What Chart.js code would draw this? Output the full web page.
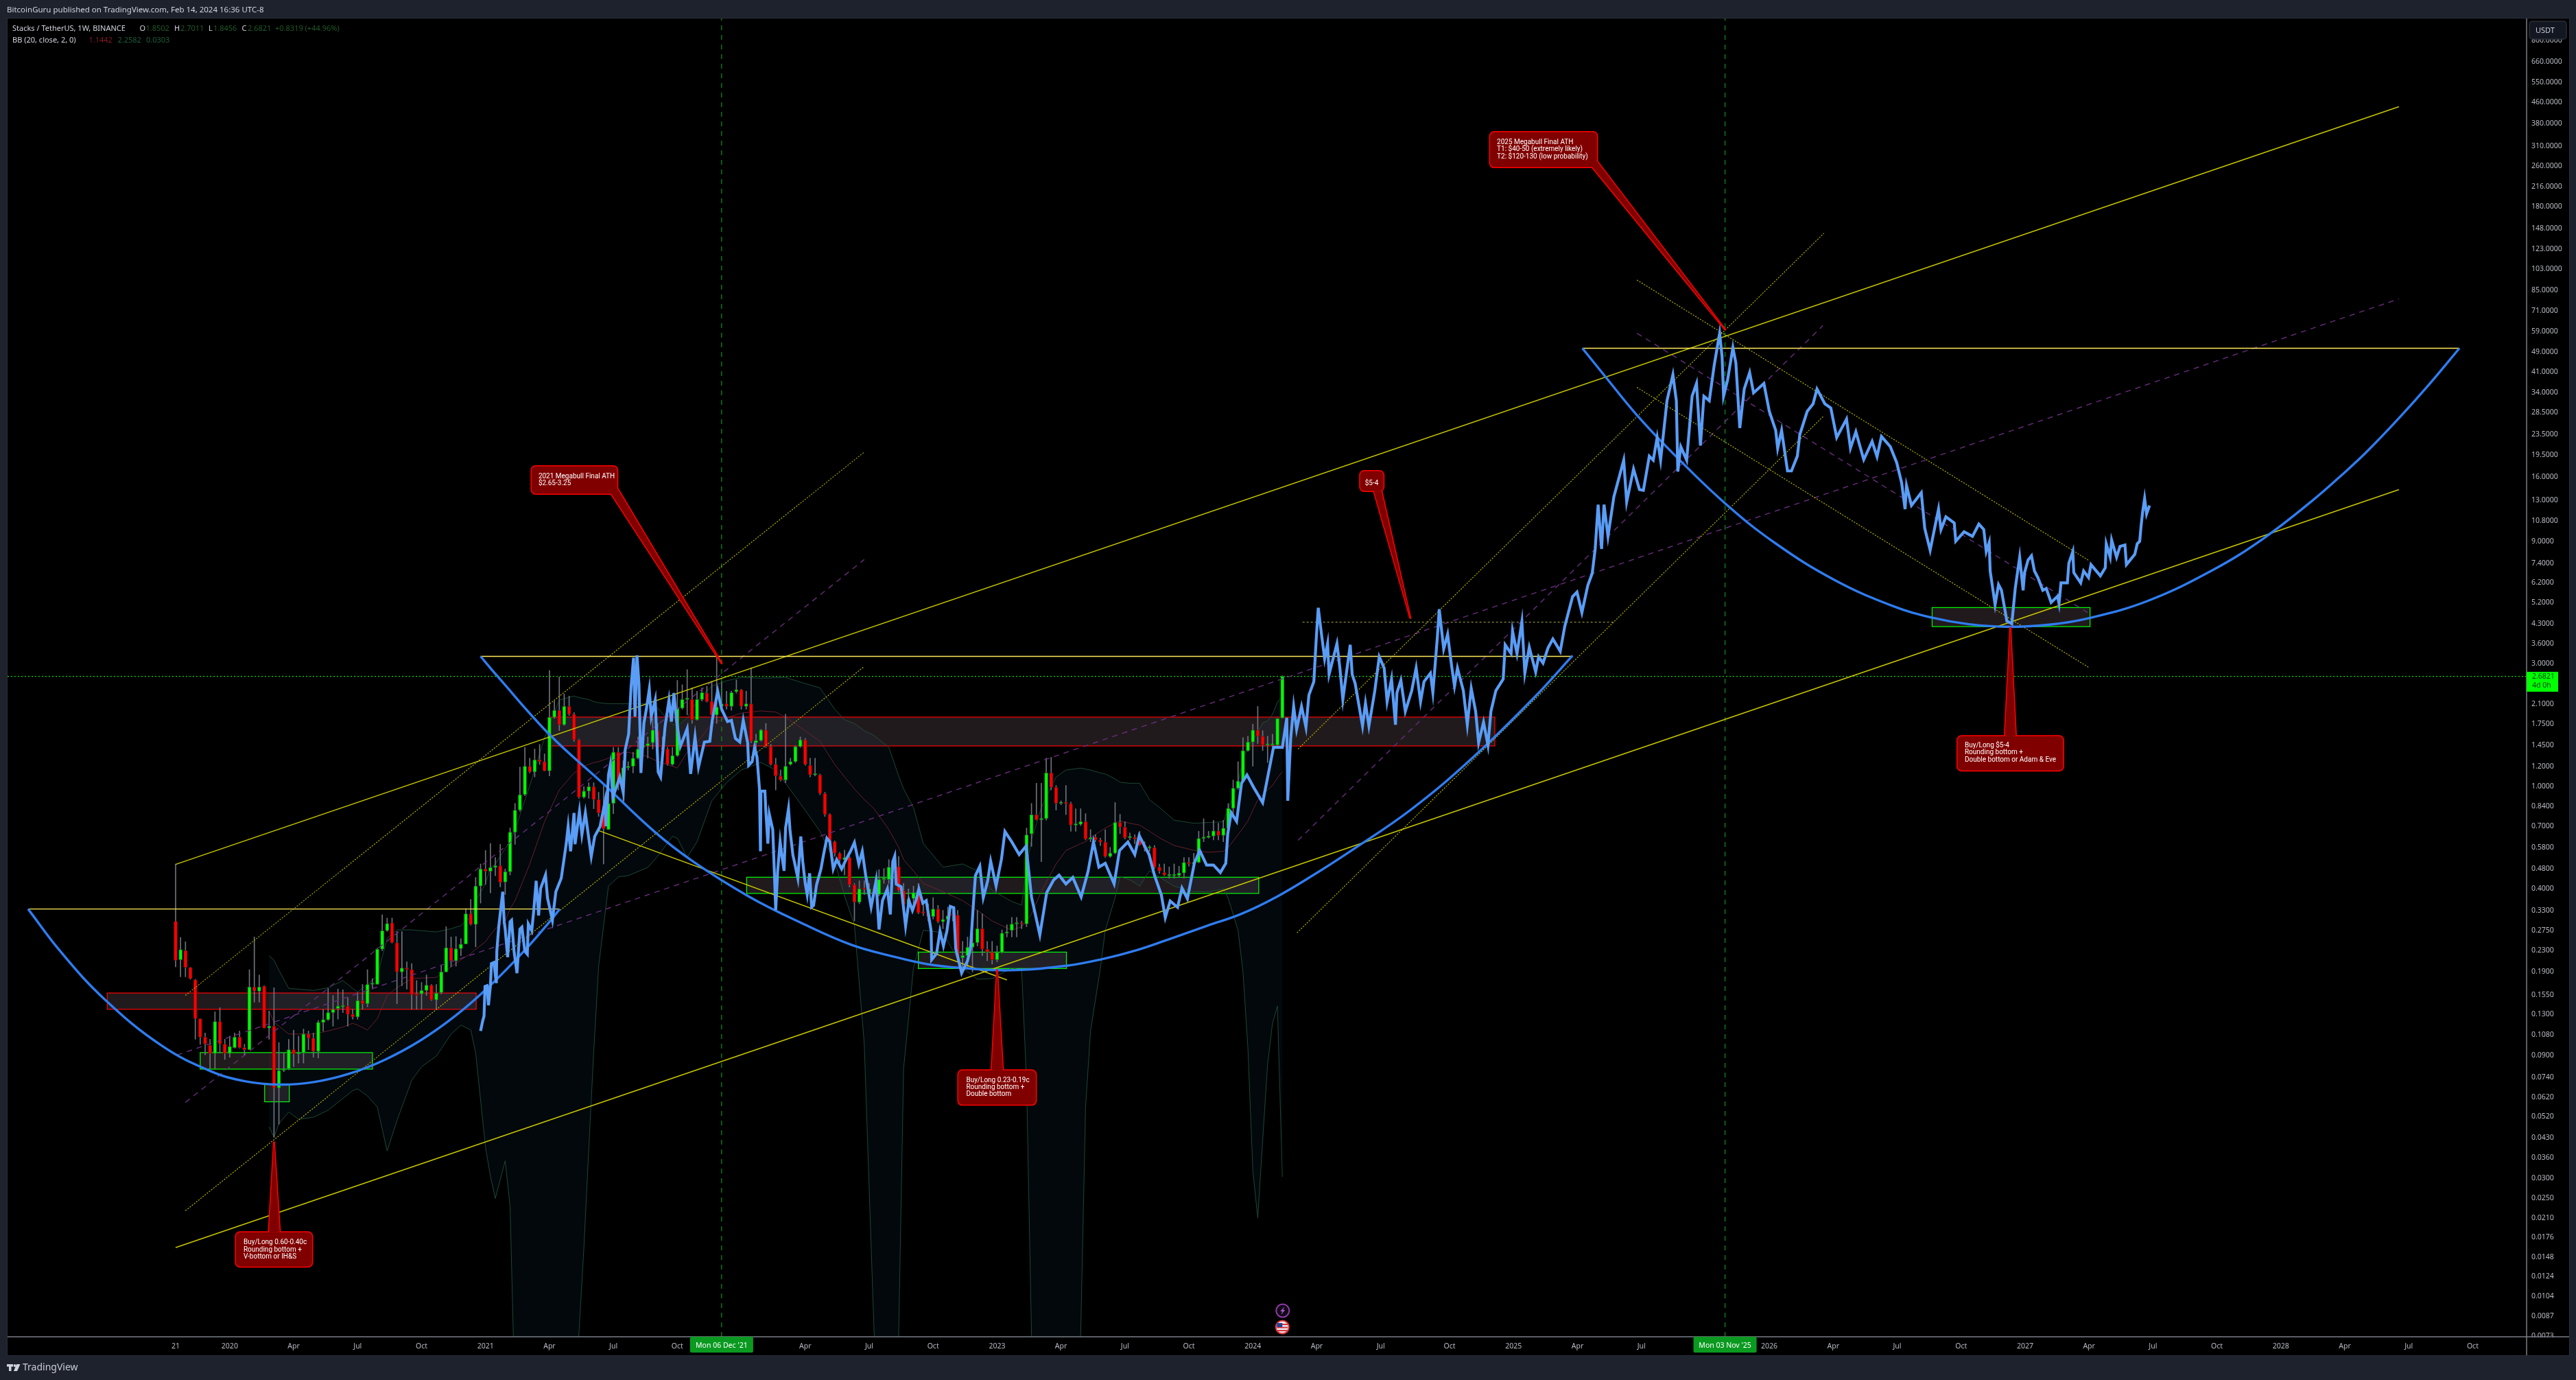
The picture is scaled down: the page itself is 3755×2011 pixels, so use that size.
<!DOCTYPE html>
<html><head><meta charset="utf-8">
<style>html,body{margin:0;padding:0;background:#1e222d;overflow:hidden}canvas{display:block}</style>
<script src="https://cdn.jsdelivr.net/npm/chart.js@4"></script>
</head><body><canvas id="c" width="3755" height="2011"></canvas>
<script>
// ---------- candle values, one entry per week from Oct 21 2019 (week 0) ----------
const opens=[
.299,.212,.230,.198,.177,.125,.106,.0985,.0915,.122,
.0996,.0915,.0965,.106,.0965,.0947,.166,.16,.167,.115,
.117,.0672,.0786,.0797,.0947,.0912,.092,.109,.105,.0933,
.121,.124,.132,.137,.139,.14,.130,.127,.147,.143,
.17,.17,.233,.275,.295,.247,.19,.197,.194,.155,
.156,.161,.169,.148,.158,.19,.236,.21,.234,.244,
.32,.291,.41,.478,.468,.484,.492,.425,.466,.665,
.81,.93,1.2,1.14,1.27,1.25,1.15,1.86,1.98,1.74,
2.05,1.91,1.52,.91,.96,1.0,.89,.79,.68,.86,
1.36,1.015,1.185,1.2,1.29,1.42,1.44,1.48,1.66,1.42,
1.40,1.22,1.32,2.02,2.18,2.18,1.82,2.18,2.31,2.14,
1.9,2.05,2.1,2.05,2.34,2.38,2.05,2.1,1.48,1.51,
1.66,1.43,1.22,1.10,1.06,1.22,1.25,1.43,1.52,1.21,
1.11,1.11,.94,.78,.61,.55,.52,.53,.415,.355,
.40,.385,.40,.38,.435,.435,.486,.488,.394,.349,
.367,.387,.323,.322,.312,.334,.298,.304,.316,.316,
.216,.22,.237,.247,.28,.233,.227,.212,.226,.269,
.276,.292,.294,.292,.655,.777,.743,.75,1.13,.993,
.86,.87,.858,.708,.713,.73,.625,.636,.62,.608,
.534,.551,.725,.695,.632,.635,.62,.593,.576,.578,
.486,.463,.45,.45,.451,.461,.507,.501,.507,.628,
.634,.642,.672,.646,.689,.823,.985,1.05,1.38,1.49,
1.66,1.57,1.45,1.45,1.45,1.8502];
const highs=[
.5,.259,.249,.198,.178,.125,.110,.104,.133,.138,
.104,.107,.110,.112,.0995,.194,.26,.185,.168,.134,
.165,.101,.092,.104,.113,.107,.114,.112,.11,.123,
.136,.164,.154,.163,.162,.151,.136,.158,.170,.194,
.179,.235,.317,.308,.308,.273,.273,.208,.205,.176,
.173,.185,.170,.17,.202,.285,.26,.261,.256,.335,
.364,.443,.5,.564,.6,.53,.596,.478,.69,.86,
1.19,1.42,1.29,1.4,1.46,1.34,2.83,2.15,2.67,2.29,
2.25,1.94,1.53,1.0,1.035,1.035,.95,1.01,1.035,1.42,
1.42,1.26,1.25,1.36,1.56,1.6,1.56,1.84,1.76,1.56,
1.42,1.42,2.59,2.49,2.85,2.42,2.35,2.42,2.46,2.56,
3.18,2.56,2.35,2.35,2.6,2.39,2.35,2.9,1.6,1.67,
1.76,1.46,1.29,1.16,1.91,1.29,1.44,1.56,1.54,1.29,
1.29,1.12,.95,.785,.615,.555,.566,.535,.42,.43,
.43,.42,.41,.475,.48,.52,.535,.535,.42,.40,
.41,.42,.36,.35,.37,.345,.33,.34,.34,.33,
.25,.26,.27,.33,.32,.25,.25,.24,.277,.29,
.31,.31,.30,.69,.86,1.03,1.03,1.29,1.3,1.01,
.88,1.01,.87,.82,.82,.785,.68,.65,.63,.68,
.58,.867,.78,.73,.66,.65,.67,.61,.59,.59,
.50,.50,.487,.50,.49,.53,.53,.55,.67,.75,
.67,.74,.72,.74,.86,1.06,1.25,1.55,1.57,1.75,
2.05,1.65,1.57,1.6,1.84,2.7011];
const lows=[
.199,.182,.182,.178,.104,.0993,.0905,.0802,.0802,.092,
.0868,.0885,.096,.096,.0901,.0947,.145,.145,.115,.104,
.0432,.0486,.0778,.079,.0815,.084,.084,.0947,.0885,.088,
.112,.123,.117,.1245,.132,.117,.1245,.1245,.136,.139,
.163,.17,.23,.273,.246,.143,.168,.163,.136,.136,
.136,.154,.147,.136,.156,.19,.199,.2,.22,.244,
.289,.238,.352,.416,.386,.45,.407,.38,.453,.596,
.80,.92,1.13,1.09,1.22,1.15,1.10,1.84,1.65,1.73,
1.89,1.5,.9,.9,.9,.82,.765,.5,.68,.785,
.97,.86,1.16,1.13,1.28,1.31,1.29,1.40,1.36,1.34,
1.21,1.21,1.31,2.0,1.9,1.76,1.81,2.15,2.13,1.89,
1.76,2.03,2.0,1.98,2.31,2.0,2.0,1.48,1.36,1.5,
1.42,1.21,.97,1.05,1.035,1.21,1.24,1.42,1.21,1.09,
1.1,.93,.765,.596,.535,.495,.453,.407,.30,.35,
.38,.375,.375,.375,.42,.42,.48,.39,.338,.34,
.345,.32,.315,.30,.305,.295,.28,.28,.30,.208,
.195,.195,.19,.24,.22,.21,.204,.208,.225,.26,
.26,.26,.28,.285,.585,.74,.51,.74,.97,.81,
.85,.778,.67,.67,.705,.62,.61,.61,.59,.53,
.53,.547,.656,.625,.62,.6,.59,.56,.56,.48,
.46,.45,.44,.44,.445,.44,.49,.49,.505,.61,
.63,.62,.62,.61,.65,.77,.975,1.04,1.37,1.2,
1.47,1.38,1.24,1.44,1.44,1.8456];
const closes=[
.211,.232,.198,.179,.125,.106,.0996,.0915,.122,.0996,
.0915,.0974,.106,.0965,.0947,.166,.16,.166,.115,.117,
.0672,.0786,.0797,.0947,.0912,.092,.109,.105,.0933,.121,
.124,.132,.136,.14,.14,.130,.127,.147,.143,.17,
.17,.233,.275,.293,.247,.19,.197,.194,.155,.154,
.161,.169,.148,.157,.19,.236,.21,.234,.244,.32,
.291,.41,.478,.468,.484,.492,.424,.466,.665,.81,
.93,1.20,1.14,1.27,1.25,1.15,1.86,1.98,1.74,2.05,
1.91,1.52,.91,.96,1.0,.89,.79,.685,.86,1.36,
1.015,1.185,1.2,1.29,1.40,1.44,1.47,1.66,1.42,1.40,
1.22,1.32,2.02,2.18,2.19,1.82,2.18,2.32,2.14,1.9,
2.04,2.1,2.05,2.32,2.38,2.05,2.10,1.5,1.51,1.66,
1.43,1.22,1.10,1.06,1.2,1.25,1.43,1.52,1.22,1.11,
1.11,.94,.78,.61,.55,.52,.53,.415,.355,.40,
.398,.40,.38,.435,.436,.486,.487,.394,.348,.365,
.387,.323,.322,.312,.334,.298,.304,.314,.315,.216,
.22,.237,.247,.28,.233,.227,.212,.226,.269,.272,
.292,.293,.292,.649,.777,.743,.75,1.13,.993,.86,
.87,.858,.708,.71,.73,.625,.632,.62,.608,.534,
.551,.725,.695,.632,.635,.625,.593,.576,.578,.486,
.469,.453,.45,.451,.461,.507,.501,.507,.628,.634,
.642,.672,.646,.689,.823,.985,1.05,1.38,1.49,1.66,
1.57,1.45,1.45,1.455,1.84,2.6821];

// ---------- Bollinger band (20, close, 2, 0) read at these weeks ----------
const bbWeeks=[19,20,21,23,25,28,31,34,36,37,39,41,43,45,48,50,53,56,58,60,61,63,64,65,67,68,69,72,75,78,81,82,83,84,85,86,88,90,92,96,98,101,102,104,106,109,112,115,119,122,124,127,131,134,136,138,140,142,145,147,148,150,152,156,160,163,166,170,172,173,174,176,179,181,184,185,186,188,189,191,192,194,196,198,200,203,207,210,213,214,216,217,218,219,220,221,222,223,224,225];
const bbUpper=[.22,.211,.193,.164,.163,.161,.165,.176,.164,.159,.17,.184,.257,.277,.277,.275,.272,.28,.288,.312,.358,.42,.484,.5,.575,.61,.68,1.01,1.55,2.17,2.25,2.22,2.2,2.18,2.14,2.12,2.1,2.1,2.1,2.1,2.02,1.75,1.72,1.85,2.15,2.46,2.58,2.66,2.64,2.65,2.66,2.55,2.42,2.0,1.82,1.76,1.65,1.58,1.42,1.1,.98,.83,.60,.486,.5,.47,.395,.357,.346,.486,.62,.83,1.09,1.16,1.18,1.17,1.16,1.13,1.12,1.07,1.04,1.03,1.03,.888,.83,.74,.72,.725,.73,.82,1.03,1.29,1.42,1.52,1.62,1.77,1.8,1.91,2.13,2.2582];
const bbBasis=[.134,.121,.117,.109,.109,.109,.112,.116,.12,.118,.113,.125,.154,.165,.179,.18,.181,.199,.212,.224,.233,.249,.265,.28,.30,.335,.36,.50,.73,.97,1.13,1.16,1.2,1.22,1.24,1.25,1.29,1.34,1.36,1.31,1.25,1.2,1.18,1.36,1.48,1.76,1.85,1.93,1.97,1.95,1.86,1.7,1.5,1.22,1.09,.98,.89,.82,.68,.58,.52,.47,.42,.39,.36,.33,.3,.276,.285,.30,.32,.39,.50,.564,.60,.61,.632,.67,.69,.72,.735,.72,.708,.67,.632,.59,.565,.555,.56,.58,.65,.69,.735,.81,.887,.93,.97,1.01,1.08,1.1442];
const bbLower=[.0475,.0432,.0488,.0542,.0508,.0517,.0551,.0612,.0657,.0667,.0626,.0567,.0382,.0502,.072,.0813,.0894,.109,.118,.113,.092,.0395,.0305,.025,.035,.0232,.004,.002,.002,.002,.004,.0075,.016,.039,.093,.2,.41,.445,.45,.485,.535,.64,.63,.53,.61,.88,1.035,1.16,1.24,1.16,1.03,.86,.67,.51,.375,.29,.10,.0075,.002,.0074,.08,.196,.276,.27,.197,.178,.179,.197,.193,.071,.0074,.002,.002,.002,.0074,.0566,.112,.196,.276,.37,.446,.434,.41,.47,.444,.41,.39,.39,.4,.367,.276,.19,.096,.032,.021,.042,.083,.12,.14,.0303];

// ---------- projected fractal (blue) ----------
const blueWeeks=[62,62.4,62.7,62.9,63.3,63.6,64,64.2,64.7,65.2,
65.3,65.7,66.5,66.8,67,67.5,68,68.3,68.8,69.4,
70,70.4,71,71.5,71.7,72.4,72.8,73.3,73.8,74.2,
75.2,75.6,76.6,77.3,78.4,79.4,79.8,80.3,81,81.2,
82.1,82.6,83.3,83.8,84.5,85.2,86.3,87.3,87.5,88,
88.4,88.9,90.3,91,91.4,92.1,92.6,93.1,93.4,93.8,
94.2,94.6,95.2,95.7,96.3,96.7,97.5,98.1,98.6,99.5,
100.3,100.8,101.3,101.8,102.6,104,104.7,105.6,106.3,107.5,
108.6,109.1,110.2,111,112.2,113,113.8,114.7,115.4,116.3,
116.5,117.2,117.7,118.2,118.7,118.9,119,119.8,120,120.4,
120.7,121.4,121.7,122,122.4,122.9,123.3,123.7,124,124.6,
124.9,125.5,125.8,126.5,127.1,127.5,128,128.4,128.9,129.3,
129.7,130.3,131.2,131.7,132.4,133,133.7,134.4,135.4,136.3,
137.2,138,138.9,139.6,140.3,141.4,142.4,143,143.7,144.7,
145.3,145.8,146.2,146.5,147.5,148.4,149.1,149.8,150.5,151.1,
151.9,152.6,153.6,153.7,154.7,155.4,156.1,156.8,157.5,158.2,
158.6,159.8,161,161.6,162.2,162.6,163.5,164.2,165.1,
165.7,166.8,167.9,168.6,170,171.5,172.9,174,175.7,177.1,178.5,179.6,181,182.4,184.1,185.5,186.6,187.7,189,190.8,191.9,193.6,195,195.9,197.9,199,200.4,201.2,202.2,203.7,204.6,205.7,207.1,208.2,209.6,211,212.4,213.5,213.9,214.6,215.7,216.7,217.8,219.2,221,223.2,225,225.9,226.1,226.7,227.3,227.9,228.9,229.8,230.4,231.4,231.9,232.3,233,233.6,234.2,234.5,236.1,236.7,237.3,238.8,239.2,239.8,241.3,241.9,242.6,243.8,244.7,245.7,246.3,247.2,248,248.3,249.1,250,251.3,252.2,253.1,253.8,255.1,255.6,256.5,256.9,257.8,258.6,259.4,260,260.6,261.8,262.6,263.4,264.3,264.9,265.9,266.8,267.4,268.4,269.9,270.3,271.5,271.8,272.7,273.7,274.3,275.2,276.5,277.1,278,279,280,281.5,282.4,284,284.9,285.9,287.1,288,288.6,289.2,289.9,290.4,291.2,292.4,294.4,295,296.4,297.6,298.4,299.6,300.4,301.2,301.9,303.2,304.4,305.1,305.4,306,307.2,308.3,309.2,310,310.7,311.8,312.8,313.9,314.4,314.7,315.5,316.6,317.2,318,318.9,320,320.8,322.9,324,325.3,325.7,326.5,327.7,328.5,329.7,330.2,331.7,332.9,333.7,335.3,336.5,337.7,339.7,340.5,341.6,343.2,344.9,345.9,346.8,348.6,349.9,350.9,351.6,351.9,352.9,354.9,355.6,356.7,357.6,358.4,358.9,359.9,361.6,361.9,363.6,365.3,366.6,367.6,368.1,368.7,368.9,369.9,370.6,371.2,372.3,373.3,374,374.9,375.6,375.9,376.6,377.3,377.9,378.6,379.6,380.3,381.3,382.6,382.9,383.3,384.6,384.9,385.7,385.9,387.3,387.9,388.9,389.4,391.3,392.3,392.5,393.3,393.6,394.6,395.3,396.3,396.6,398.3,398.8,399.3,399.6,399.9,400.3,400.7,401.3];
const blueValues=[.112,.122,.128,.167,.168,.141,.168,.205,.207,.172,
.229,.286,.39,.298,.279,.217,.298,.302,.229,.188,
.279,.284,.229,.223,.292,.275,.328,.43,.315,.401,
.453,.369,.302,.39,.44,.597,.70,.56,.79,.597,
.80,.65,.79,.67,.535,.64,.70,.875,.70,1.11,
1.22,.91,1.09,.95,1.39,1.6,2.45,3.17,1.87,3.24,
2.5,1.13,1.76,2.0,2.39,1.87,2.17,1.14,1.09,1.71,
2.17,1.79,2.31,1.83,1.43,1.68,1.12,1.56,1.19,1.49,
1.5,1.81,2.35,2.0,1.79,1.81,1.54,1.49,1.81,1.48,
1.21,1.25,1.42,1.30,.98,.56,.96,.96,.80,.60,
.78,.68,.478,.331,.47,.61,.53,.47,.69,.82,
.68,.54,.51,.44,.64,.51,.42,.38,.46,.34,
.345,.415,.478,.54,.63,.61,.478,.52,.478,.52,
.56,.606,.50,.56,.45,.34,.43,.278,.36,.40,
.318,.51,.536,.417,.408,.287,.36,.33,.36,.40,
.352,.36,.274,.212,.224,.274,.24,.274,.342,.338,
.234,.188,.21,.234,.352,.45,.49,.37,.43,
.513,.41,.523,.669,.609,.544,.587,.372,.265,.387,.433,.452,.418,.443,.372,.468,.609,.486,.503,.418,.564,.609,.544,.644,.544,.452,.379,.309,.359,.339,.403,.366,.503,.564,.495,.495,.463,.503,.655,.791,.732,1.03,1.11,.99,.866,1.42,1.42,1.85,.88,1.54,2.05,1.67,2.05,1.70,2.27,2.56,3.78,4.96,3.86,3.14,3.6,2.73,3.6,2.89,2.18,3.56,2.73,2.52,1.72,2.11,1.72,2.36,3.2,2.89,2.14,2.62,1.74,2.32,2.59,1.96,2.36,2.89,2.14,2.56,2.76,2.32,3.78,4.9,3.43,3.91,2.96,2.46,2.89,2.36,1.74,2.41,1.96,1.48,1.78,1.45,1.96,2.36,2.62,3.56,3.29,4.03,3.29,4.38,2.76,3.48,2.79,3.2,3.02,3.46,3.75,3.36,4.19,5.48,5.71,4.75,6.06,6.75,8.4,12.5,8.4,12.5,9.4,13.4,18.6,12.8,17.2,14.3,14.2,19.3,18.6,22.8,18.6,31.7,40,31.7,16.8,21,18.6,33,37,21.2,33,31.7,43.6,58,47,33,38,51,44.5,24.8,35.2,40.8,34,37,28.8,24.3,20.7,24.3,16.9,16.9,19.3,23.4,28.8,30.8,35.2,30.8,29.7,22.8,26.9,20.7,24,18.7,22,19.2,23,21,18.2,15.2,12,14.8,12.4,13.9,10.1,8.3,10.1,12,10,11.2,10.6,9,9.8,9.4,10.5,10,8.2,8.9,6.9,5.1,6.1,5.8,4.4,4.3,5.9,7.8,5.8,6.8,7.6,7.9,6.9,6.5,5.8,5.9,5.2,5.5,5.15,6.2,6.2,7.4,8.2,6.8,6.2,6.9,6.5,7.3,6.6,7.1,8.8,7.8,9.1,7.8,8.6,8.7,7.3,8,8.8,9,10.4,11.7,13.2,11.5,12.4];

// ---------- rounding-bottom arcs ----------
const arc1Weeks=[-30,-23.3,-14.4,-2.9,7,14.1,21.2,28.3,35.4,42.5,49.7,56.8,63.9,71,75.9,78.1];
const arc1Values=[.334,.227,.1485,.0984,.0783,.0714,.0693,.071,.0765,.0865,.1027,.128,.168,.231,.296,.334];
const arc2Weeks=[62,65.4,76.2,87,97.3,105.4,116.6,127,137.2,145.6,152.7,159.8,169.7,181.2,188.3,195.4,202.5,209.6,216.7,223.9,231,238.8,251.2,263.6,276.2,284];
const arc2Values=[3.21,2.69,1.58,1.023,.669,.508,.373,.296,.243,.219,.204,.197,.193,.201,.213,.231,.257,.287,.32,.373,.449,.56,.815,1.29,2.22,3.23];
const arc3Weeks=[286,290.4,297.2,305.2,315.2,325.2,337.2,349.2,357.3,364.6,372.9,381.3,388.8,401,414.2,424.3,434.3,441,445.5,452,458,464.3];
const arc3Values=[50.7,39.9,27.7,19.1,12.55,8.85,6.37,5.03,4.53,4.28,4.18,4.27,4.51,5.28,6.96,9.18,12.9,16.7,20.1,27.1,36.4,50.7];

// ---------- drawn straight lines: [week1, price1, week2, price2] ----------
const rimLines=[[-30,.334,78.1,.334],[62,3.21,284,3.21],[286,50.7,464.3,50.7]];
const solidTrends=[[0,.0161,452,14.3],[0,.498,452,441],[86,.674,169,.177]];
const dottedTrends=[[2,.154,140,20],[2,.0224,140,2.93],[228.2,1.4,335.1,142],[228,.27,335.1,27.7],[297.1,93.4,388.9,7.59],[297.1,35.7,388.9,2.91]];
const purpleTrends=[[2,.0591,140,7.64],[228.2,.618,334.9,62.1],[297.1,58,388.9,4.73],[.3,.0903,452,78.9]];
const oliveLevels=[[229.1,4.36,292.3,4.36]];
const crosshairWeeks=[111,315];
const lastPrice=2.6821;

// ---------- zones: [week1, week2, priceTop, priceBottom] ----------
const redZones=[[-13.9,61.1,.1574,.136],[76.2,268.2,1.863,1.439]];
const greenZones=[[5,40,.0923,.0796],[18.1,23.1,.0694,.0594],[116.1,220.2,.444,.384],[151,181.1,.227,.196],[357.1,389.2,4.97,4.19]];

// ---------- axes ----------
const priceTicks=[800,660,550,460,380,310,260,216,180,148,123,103,85,71,59,49,41,34,28.5,23.5,19.5,16,13,10.8,9,7.4,6.2,5.2,4.3,3.6,3,2.1,1.75,1.45,1.2,1,.84,.7,.58,.48,.4,.33,.275,.23,.19,.155,.13,.108,.09,.074,.062,.052,.043,.036,.03,.025,.021,.0176,.0148,.0124,.0104,.0087,.0073];
const timeTickWeeks=[0,11,24,37,50,63,76,89,102,128,141,154,167,180,193,206,219,232,245,259,272,285,298,324,337,350,363,376,389,402,415,428,441,454,467];
const timeTickLabels=['21','2020','Apr','Jul','Oct','2021','Apr','Jul','Oct','Apr','Jul','Oct','2023','Apr','Jul','Oct','2024','Apr','Jul','Oct','2025','Apr','Jul','2026','Apr','Jul','Oct','2027','Apr','Jul','Oct','2028','Apr','Jul','Oct'];

const callouts=[
 {tip:[20,.0413],box:[-55.5,131,111,50],base:[[-7.5,131],[8.5,131]],textAt:[-44.5,146],step:10.5,lines:['Buy/Long 0.60-0.40c','Rounding bottom +','V-bottom or IH&S']},
 {tip:[111,3.02],box:[-277,-287,125,40],base:[[-161,-247],[-152,-255]],textAt:[-267,-272],step:10,lines:['2021 Megabull Final ATH','$2.65-3.25']},
 {tip:[251,4.53],box:[-73,-214,34,29],base:[[-53,-185],[-42,-185]],textAt:[-66,-196],step:10,lines:['$5-4']},
 {tip:[167,.193],box:[-56.5,146,113,50],base:[[-8,146],[8.5,146]],textAt:[-45,161],step:10,lines:['Buy/Long 0.23-0.19c','Rounding bottom +','Double bottom']},
 {tip:[315,60],box:[-342.5,-287.5,156,51],base:[[-193.5,-236.5],[-186.5,-245]],textAt:[-332.5,-272.5],step:10.3,lines:['2025 Megabull Final ATH','T1: $40-50 (extremely likely)','T2: $120-130 (low probability)']},
 {tip:[373,4.15],box:[-77,158,154,50],base:[[-8,158],[8,158]],textAt:[-66.5,172],step:10.2,lines:['Buy/Long $5-4','Rounding bottom +','Double bottom or Adam & Eve']}
];

const weeks=opens.map((_,i)=>i);
const mk=(xs,ys)=>xs.map((x,i)=>({x,y:ys[i]}));
const seg=(l)=>[{x:l[0],y:l[1]},{x:l[2],y:l[3]}];
const lineDs=(data,color,w,dash,order,extra)=>Object.assign({type:'line',data,borderColor:color,borderWidth:w,borderDash:dash||[],pointRadius:0,tension:0,fill:false,order,parsing:{xAxisKey:'x',yAxisKey:'y'}},extra||{});
const YMIN=.00724,YMAX=972,XMIN=-34.17,XMAX=477.96;

const datasets=[];
// band: upper dataset fills to lower (index 1)
datasets.push(lineDs(mk(bbWeeks,bbUpper),'rgba(34,82,56,.85)',1,[],100,{fill:{target:1,above:'rgba(33,150,243,.05)',below:'rgba(33,150,243,.05)'}}));
datasets.push(lineDs(mk(bbWeeks,bbLower),'rgba(34,82,56,.85)',1,[],100));
datasets.push(lineDs(mk(bbWeeks,bbBasis),'rgba(120,28,38,.9)',1,[],100));
// wicks and bodies
datasets.push({type:'bar',grouped:false,order:90,barThickness:1,backgroundColor:'rgb(112,114,124)',data:weeks.map(i=>({x:i,y:[lows[i],highs[i]]}))});
datasets.push({type:'bar',grouped:false,order:80,barThickness:5,minBarLength:2,borderWidth:1,borderSkipped:false,
  backgroundColor:weeks.map(i=>closes[i]>=opens[i]?'#00ff00':'#ff0000'),
  borderColor:weeks.map(i=>closes[i]>=opens[i]?'#14791c':'#7c0a0a'),
  data:weeks.map(i=>({x:i,y:[opens[i],closes[i]]}))});
// drawings
solidTrends.forEach(l=>datasets.push(lineDs(seg(l),'#c9c800',1.5,[],70)));
dottedTrends.forEach(l=>datasets.push(lineDs(seg(l),'#b5b400',1.2,[2,2],70)));
purpleTrends.forEach(l=>datasets.push(lineDs(seg(l),'#672e7c',1.4,[8,7],70)));
oliveLevels.forEach(l=>datasets.push(lineDs(seg(l),'#8a8a3c',1.2,[3,3],70)));
rimLines.forEach(l=>datasets.push(lineDs(seg(l),'#ffeb5a',1.4,[],65)));
crosshairWeeks.forEach(w=>datasets.push(lineDs([{x:w,y:YMIN},{x:w,y:YMAX}],'#0c8f1c',1.2,[7,7],72)));
datasets.push(lineDs([{x:XMIN,y:lastPrice},{x:XMAX,y:lastPrice}],'#00e000',1.2,[2,3],72));
// arcs
[[arc1Weeks,arc1Values],[arc2Weeks,arc2Values],[arc3Weeks,arc3Values]].forEach(a=>datasets.push(lineDs(mk(a[0],a[1]),'#2f7df0',3.4,[],60,{tension:.4})));
// projected fractal
datasets.push(lineDs(mk(blueWeeks,blueValues),'#5a9df6',4.2,[],50,{borderJoinStyle:'miter'}));

const UI='"Noto Sans",sans-serif';
const frame={id:'frame',
 beforeDraw(c){const x=c.ctx;x.save();
  x.fillStyle='#1e222d';x.fillRect(0,0,3755,2011);
  x.fillStyle='#000';x.fillRect(11,27,3734,1948);
  x.strokeStyle='#2a2e39';x.lineWidth=1;x.strokeRect(10.5,26.5,3735,1949);
  x.restore();},
 beforeDatasetsDraw(c){const x=c.ctx,X=c.scales.x,Y=c.scales.y;x.save();
  x.lineWidth=1.2;
  const draw=(z,col)=>z.forEach(r=>{const a=X.getPixelForValue(r[0]),b=X.getPixelForValue(r[1]),t=Y.getPixelForValue(r[2]),u=Y.getPixelForValue(r[3]);
    x.fillStyle='rgb(33,26,28)';x.fillRect(a,t,b-a,u-t);x.strokeStyle=col;x.strokeRect(a,t,b-a,u-t);});
  draw(redZones,'#ff0000');draw(greenZones,'#00ff00');x.restore();},
 afterDatasetsDraw(c){const x=c.ctx,X=c.scales.x,Y=c.scales.y;x.save();
  callouts.forEach(k=>{const tx=X.getPixelForValue(k.tip[0]),ty=Y.getPixelForValue(k.tip[1]);
   const bx=tx+k.box[0],by=ty+k.box[1],bw=k.box[2],bh=k.box[3];
   const pointer=()=>{x.beginPath();x.moveTo(tx,ty);x.lineTo(tx+k.base[0][0],ty+k.base[0][1]);x.lineTo(tx+k.base[1][0],ty+k.base[1][1]);x.closePath();};
   const round=()=>{x.beginPath();x.roundRect(bx,by,bw,bh,6);};
   x.strokeStyle='#ff0000';x.lineWidth=3;x.lineJoin='round';pointer();x.stroke();round();x.stroke();
   x.fillStyle='#800000';pointer();x.fill();round();x.fill();
   x.fillStyle='#ffffff';x.font='10px Roboto,sans-serif';x.textAlign='left';x.textBaseline='middle';
   k.lines.forEach((t,i)=>x.fillText(t,tx+k.textAt[0],ty+k.textAt[1]+i*k.step));
  });
  x.restore();},
 afterDraw(c){const x=c.ctx,X=c.scales.x;x.save();
  // clip the last price tick under the time axis
  x.fillStyle='#000';x.fillRect(3684,1949,61,26);
  // axis rules
  x.strokeStyle='#7a7d86';x.lineWidth=1.5;
  x.beginPath();x.moveTo(11,1948);x.lineTo(3745,1948);x.moveTo(3683,27);x.lineTo(3683,1975);x.stroke();
  // currency button
  x.fillStyle='#131722';x.strokeStyle='#2a2e39';x.lineWidth=1.5;x.beginPath();x.roundRect(3687,31,54,26,4);x.fill();x.stroke();
  x.fillStyle='#c8cad2';x.font='11px '+UI;x.textBaseline='middle';x.textAlign='left';x.fillText('USDT',3696,44.5);
  // last price badge
  x.fillStyle='#00ff00';x.fillRect(3683,979,46,29);
  x.fillStyle='#0b3d0b';x.font='10.5px '+UI;x.fillText('2.6821',3691,986.5);x.fillText('4d 0h',3691,999.5);
  // crosshair date badges
  [[111,"Mon 06 Dec '21",46],[315,"Mon 03 Nov '25",46]].forEach(b=>{const px=X.getPixelForValue(b[0]);
    x.fillStyle='#0a9a20';x.beginPath();x.roundRect(px-b[2],1948,b[2]*2,23,2);x.fill();
    x.fillStyle='#fff';x.font='10.5px '+UI;x.textAlign='center';x.fillText(b[1],px,1961);});
  // header
  x.textAlign='left';x.font='11.5px '+UI;x.fillStyle='#d1d4dc';x.fillText('BitcoinGuru published on TradingView.com, Feb 14, 2024 16:36 UTC-8',10,15);
  const T=(s,px,py,col)=>{x.fillStyle=col;x.fillText(s,px,py);};
  x.font='11px '+UI;const G='#215a26';
  T('Stacks / TetherUS, 1W, BINANCE',18,42,'#d1d4dc');
  T('O',203.5,42,'#d1d4dc');T('1.8502',212.5,42,G);T('H',254,42,'#d1d4dc');T('2.7011',263,42,G);
  T('L',304,42,'#d1d4dc');T('1.8456',311,42,G);T('C',352.5,42,'#d1d4dc');T('2.6821',361,42,G);T('+0.8319 (+44.96%)',401,42,G);
  T('BB (20, close, 2, 0)',18,59,'#d1d4dc');T('1.1442',129.5,59,'#801922');T('2.2582',171.5,59,'#1b5e3a');T('0.0303',213,59,'#1b5e3a');
  // footer logo
  x.fillStyle='#d1d4dc';x.fillRect(10,1988,9,3.5);x.fillRect(13,1988,3.5,10);x.beginPath();x.arc(21.5,1990,1.9,0,7);x.fill();
  x.beginPath();x.moveTo(24,1988);x.lineTo(29.5,1988);x.lineTo(25,1998);x.lineTo(20,1998);x.closePath();x.fill();
  x.font='14px '+UI;x.fillStyle='#c8cad2';x.fillText('TradingView',33,1993);
  // event markers
  const ex=X.getPixelForValue(225);
  x.lineWidth=2;x.strokeStyle='#8e3aa8';x.fillStyle='#120a18';x.beginPath();x.arc(ex+.5,1910,9.5,0,7);x.fill();x.stroke();
  x.fillStyle='#a85cc4';x.beginPath();x.moveTo(ex+3,1904);x.lineTo(ex-3,1911);x.lineTo(ex,1911);x.lineTo(ex-2,1916);x.lineTo(ex+4,1909);x.lineTo(ex+1,1909);x.closePath();x.fill();
  x.strokeStyle='#e0393e';x.fillStyle='#e8e8ee';x.beginPath();x.arc(ex,1934,9.5,0,7);x.fill();x.stroke();
  x.fillStyle='#d8343a';for(let k=0;k<3;k++)x.fillRect(ex-8,1929+k*4.5,16,2);
  x.fillStyle='#27408f';x.fillRect(ex-8,1928,8,6);
  x.restore();}
};

new Chart(document.getElementById('c'),{
 data:{datasets},
 plugins:[frame],
 options:{responsive:false,animation:false,events:[],devicePixelRatio:1,
  layout:{padding:{left:11,top:27,right:10,bottom:36}},
  plugins:{legend:{display:false},tooltip:{enabled:false},title:{display:false}},
  elements:{line:{capBezierPoints:true}},
  scales:{
   x:{type:'linear',min:XMIN,max:XMAX,offset:false,
    grid:{display:false,drawTicks:false},border:{display:false},
    afterBuildTicks:s=>{s.ticks=timeTickWeeks.map(v=>({value:v}));},
    afterFit:s=>{s.height=27;},
    ticks:{autoSkip:false,maxRotation:0,minRotation:0,padding:8,color:'#b8bac2',font:{family:'"Noto Sans",sans-serif',size:10.5},
      callback:v=>{const i=timeTickWeeks.indexOf(v);return i<0?'':timeTickLabels[i];}}},
   y:{type:'logarithmic',position:'right',min:YMIN,max:YMAX,offset:false,
    grid:{display:false,drawTicks:false},border:{display:false},
    afterBuildTicks:s=>{s.ticks=priceTicks.map(v=>({value:v}));},
    afterFit:s=>{s.width=62;},
    ticks:{autoSkip:false,padding:7,crossAlign:'near',color:'#b8bac2',font:{family:'"Noto Sans",sans-serif',size:10.5},
      callback:v=>Number(v).toFixed(4)}}
  }}
});
</script></body></html>
